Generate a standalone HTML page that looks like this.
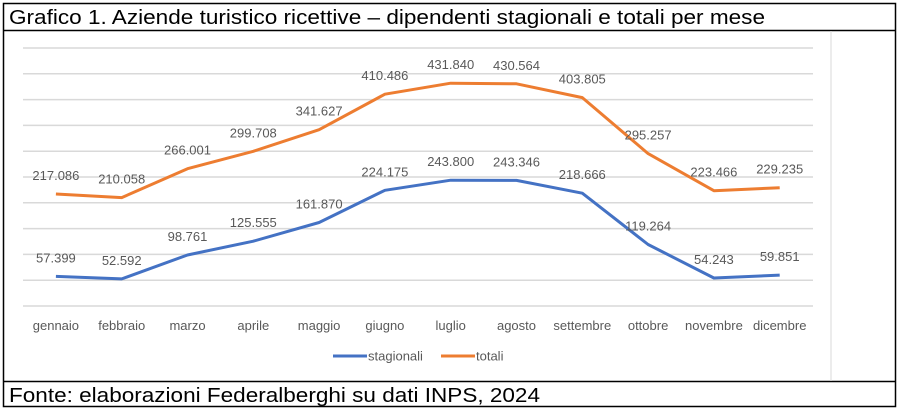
<!DOCTYPE html>
<html><head><meta charset="utf-8"><style>html,body{margin:0;padding:0;background:#fff}svg{display:block}</style></head>
<body>
<svg width="900" height="410" xmlns="http://www.w3.org/2000/svg" font-family="Liberation Sans, Arial, sans-serif">
<rect x="0" y="0" width="900" height="410" fill="#fff"/>
<rect x="3.5" y="3.5" width="892" height="403" fill="none" stroke="#000" stroke-width="1.5"/>
<line x1="3" y1="30.5" x2="896" y2="30.5" stroke="#000" stroke-width="1.5"/>
<line x1="3" y1="381.5" x2="896" y2="381.5" stroke="#000" stroke-width="1.5"/>
<line x1="831" y1="31" x2="831" y2="381" stroke="#d9d9d9" stroke-width="1"/>
<text x="9" y="24" font-size="20" fill="#000" textLength="756" lengthAdjust="spacingAndGlyphs">Grafico 1. Aziende turistico ricettive – dipendenti stagionali e totali per mese</text>
<text x="9" y="402" font-size="20" fill="#000" textLength="531" lengthAdjust="spacingAndGlyphs">Fonte: elaborazioni Federalberghi su dati INPS, 2024</text>
<g stroke="#d9d9d9" stroke-width="1.5">
<line x1="23" x2="813" y1="48" y2="48"/><line x1="23" x2="813" y1="73.8" y2="73.8"/>
<line x1="23" x2="813" y1="99.6" y2="99.6"/><line x1="23" x2="813" y1="125.4" y2="125.4"/>
<line x1="23" x2="813" y1="151.2" y2="151.2"/><line x1="23" x2="813" y1="177" y2="177"/>
<line x1="23" x2="813" y1="202.8" y2="202.8"/><line x1="23" x2="813" y1="228.6" y2="228.6"/>
<line x1="23" x2="813" y1="254.4" y2="254.4"/><line x1="23" x2="813" y1="280.2" y2="280.2"/>
<line x1="23" x2="813" y1="306" y2="306"/>
</g>
<polyline fill="none" stroke="#ED7D31" stroke-width="3" stroke-linejoin="round" points="55.9,194 121.7,197.6 187.5,168.7 253.3,151.3 319.1,129.7 384.9,94.2 450.7,83.2 516.5,83.8 582.3,97.6 648.1,153.6 713.9,190.7 779.7,187.7"/>
<polyline fill="none" stroke="#4472C4" stroke-width="3" stroke-linejoin="round" points="55.9,276.4 121.7,278.9 187.5,255 253.3,241.2 319.1,222.5 384.9,190.3 450.7,180.2 516.5,180.4 582.3,193.2 648.1,244.5 713.9,278 779.7,275.1"/>
<g font-size="13" fill="#595959" text-anchor="middle">
<text x="55.9" y="180">217.086</text><text x="121.7" y="183.6">210.058</text><text x="187.5" y="154.7">266.001</text><text x="253.3" y="137.3">299.708</text><text x="319.1" y="115.7">341.627</text><text x="384.9" y="80.2">410.486</text><text x="450.7" y="69.2">431.840</text><text x="516.5" y="69.8">430.564</text><text x="582.3" y="83.6">403.805</text><text x="648.1" y="139.6">295.257</text><text x="713.9" y="176.7">223.466</text><text x="779.7" y="173.7">229.235</text>
<text x="55.9" y="262.4">57.399</text><text x="121.7" y="264.9">52.592</text><text x="187.5" y="241">98.761</text><text x="253.3" y="227.2">125.555</text><text x="319.1" y="208.5">161.870</text><text x="384.9" y="176.3">224.175</text><text x="450.7" y="166.2">243.800</text><text x="516.5" y="166.4">243.346</text><text x="582.3" y="179.2">218.666</text><text x="648.1" y="230.5">119.264</text><text x="713.9" y="264">54.243</text><text x="779.7" y="261.1">59.851</text>
<text x="55.9" y="330">gennaio</text><text x="121.7" y="330">febbraio</text><text x="187.5" y="330">marzo</text><text x="253.3" y="330">aprile</text><text x="319.1" y="330">maggio</text><text x="384.9" y="330">giugno</text><text x="450.7" y="330">luglio</text><text x="516.5" y="330">agosto</text><text x="582.3" y="330">settembre</text><text x="648.1" y="330">ottobre</text><text x="713.9" y="330">novembre</text><text x="779.7" y="330">dicembre</text>
</g>
<line x1="333" x2="367" y1="356" y2="356" stroke="#4472C4" stroke-width="3"/>
<text x="368" y="360.5" font-size="13" fill="#595959">stagionali</text>
<line x1="441" x2="475" y1="356" y2="356" stroke="#ED7D31" stroke-width="3"/>
<text x="476" y="360.5" font-size="13" fill="#595959">totali</text>
</svg>
</body></html>
